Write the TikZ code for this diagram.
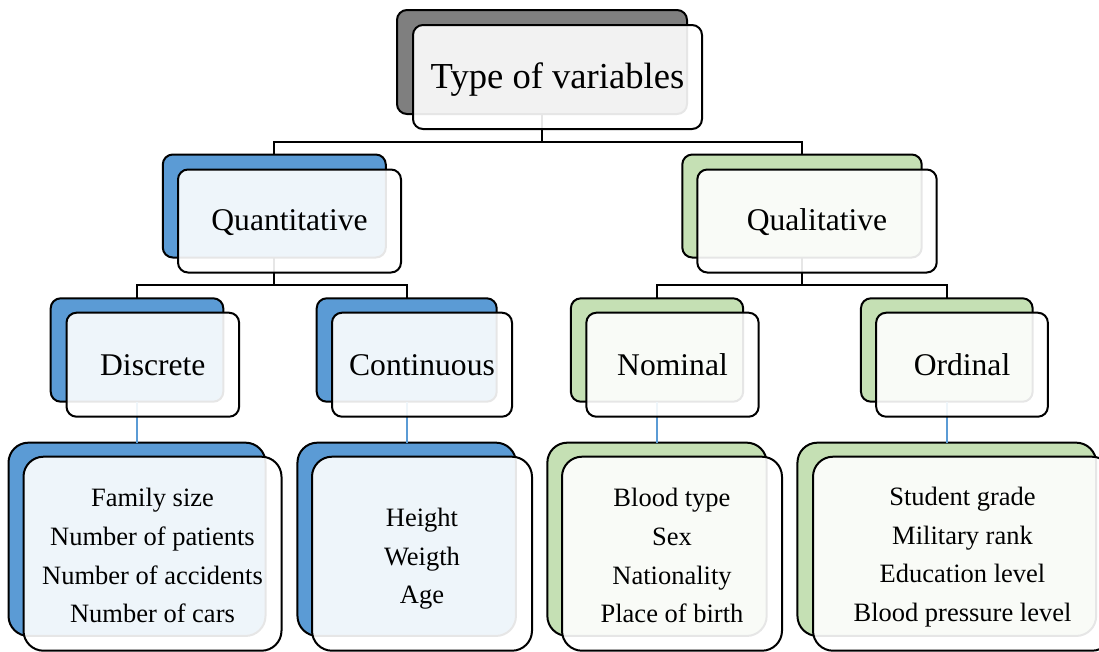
\documentclass[tikz,border=0pt]{standalone}
\usepackage{fontspec}
\setmainfont{Liberation Serif}
\definecolor{bblue}{HTML}{5B9BD5}
\definecolor{bgreen}{HTML}{C5E0B4}
\definecolor{bgrey}{HTML}{7F7F7F}
\tikzset{
  backbox/.style={draw=black, line width=2pt, rounded corners=10pt, inner sep=0pt, outer sep=0pt},
  frontbox/.style={draw=black, line width=2pt, rounded corners=10pt, inner sep=0pt, outer sep=0pt,
     fill=white, fill opacity=0.9},
  bigback/.style={backbox, rounded corners=20pt},
  bigfront/.style={frontbox, rounded corners=20pt},
  titlefont/.style={font=\fontsize{36.6}{44}\selectfont, anchor=base, inner sep=0pt},
  midfont/.style={font=\fontsize{31.6}{38}\selectfont, anchor=base, inner sep=0pt},
  smallfont/.style={font=\fontsize{26.5}{38.7}\selectfont, align=center, inner sep=0pt},
  conn/.style={draw=black, line width=2pt},
  bconn/.style={draw=bblue, line width=1.6pt},
}
\begin{document}
\begin{tikzpicture}[x=1pt,y=-1pt]
\useasboundingbox (0,0) rectangle (1099,651);
\clip (0,0) rectangle (1099,651);
% back boxes
\node[backbox, fill=bgrey, minimum width=290pt, minimum height=104pt] (tB) at (542,62) {};
\node[backbox, fill=bblue, minimum width=223pt, minimum height=103pt] (qnB) at (274.3,206) {};
\node[backbox, fill=bgreen, minimum width=239.4pt, minimum height=103pt] (qlB) at (802,206) {};
\node[backbox, fill=bblue, minimum width=172.6pt, minimum height=103.4pt] (dB) at (137,350) {};
\node[backbox, fill=bblue, minimum width=180pt, minimum height=103.4pt] (cB) at (406.7,350) {};
\node[backbox, fill=bgreen, minimum width=172.3pt, minimum height=103.4pt] (nB) at (657,350) {};
\node[backbox, fill=bgreen, minimum width=171.7pt, minimum height=103.4pt] (oB) at (946.8,350) {};
\node[bigback, fill=bblue, minimum width=257pt, minimum height=193.3pt] (d4B) at (137,539.3) {};
\node[bigback, fill=bblue, minimum width=218.5pt, minimum height=193.3pt] (c4B) at (406.7,539.3) {};
\node[bigback, fill=bgreen, minimum width=219.3pt, minimum height=193.3pt] (n4B) at (657,539.3) {};
\node[bigback, fill=bgreen, minimum width=298.7pt, minimum height=193.3pt] (o4B) at (946.8,539.3) {};
% connectors
\coordinate (j1) at (542,141.5);
\coordinate (j2) at (274.3,285);
\coordinate (j3) at (802,285);
\draw[conn] (tB.south) -- (j1);
\draw[conn] (j1) -| (qnB.north);
\draw[conn] (j1) -| (qlB.north);
\draw[conn] (qnB.south) -- (j2);
\draw[conn] (j2) -| (dB.north);
\draw[conn] (j2) -| (cB.north);
\draw[conn] (qlB.south) -- (j3);
\draw[conn] (j3) -| (nB.north);
\draw[conn] (j3) -| (oB.north);
\draw[bconn] (dB.south) -- (d4B.north);
\draw[bconn] (cB.south) -- (c4B.north);
\draw[bconn] (nB.south) -- (n4B.north);
\draw[bconn] (oB.south) -- (o4B.north);
% front boxes
\node[frontbox, minimum width=289pt, minimum height=104pt] (t) at (557.5,77) {};
\node[frontbox, minimum width=223pt, minimum height=103pt] (qn) at (289.5,221) {};
\node[frontbox, minimum width=239.4pt, minimum height=103pt] (ql) at (817,221) {};
\node[frontbox, minimum width=172.6pt, minimum height=104pt] (d) at (152.8,364.7) {};
\node[frontbox, minimum width=180pt, minimum height=104pt] (c) at (422,364.7) {};
\node[frontbox, minimum width=172.3pt, minimum height=104pt] (n) at (672.5,364.7) {};
\node[frontbox, minimum width=171.7pt, minimum height=104pt] (o) at (962,364.7) {};
\node[bigfront, minimum width=258pt, minimum height=194pt] (d4) at (152.5,553.7) {};
\node[bigfront, minimum width=220pt, minimum height=194pt] (c4) at (422,553.7) {};
\node[bigfront, minimum width=220pt, minimum height=194pt] (n4) at (672,553.7) {};
\node[bigfront, minimum width=299pt, minimum height=194pt] (o4) at (962.5,553.7) {};
% texts
\node[titlefont] (tT) at ([yshift=-11pt]t.center) {Type of variables};
\node[midfont] (qnT) at ([yshift=-9pt]qn.center) {Quantitative};
\node[midfont] (qlT) at ([yshift=-9pt]ql.center) {Qualitative};
\node[midfont] (dT) at ([yshift=-10.3pt]d.center) {Discrete};
\node[midfont] (cT) at ([yshift=-10.3pt]c.center) {Continuous};
\node[midfont] (nT) at ([yshift=-10.3pt]n.center) {Nominal};
\node[midfont] (oT) at ([yshift=-10.3pt]o.center) {Ordinal};
\node[smallfont] (d4T) at ([yshift=-2pt]d4.center) {Family size\\Number of patients\\Number of accidents\\Number of cars};
\node[smallfont] (c4T) at ([yshift=-5pt]c4.center) {Height\\Weigth\\Age};
\node[smallfont] (n4T) at ([yshift=-2pt]n4.center) {Blood type\\Sex\\Nationality\\Place of birth};
\node[smallfont] (o4T) at ([yshift=-3.5pt]o4.center) {Student grade\\Military rank\\Education level\\Blood pressure level};
\end{tikzpicture}
\end{document}
